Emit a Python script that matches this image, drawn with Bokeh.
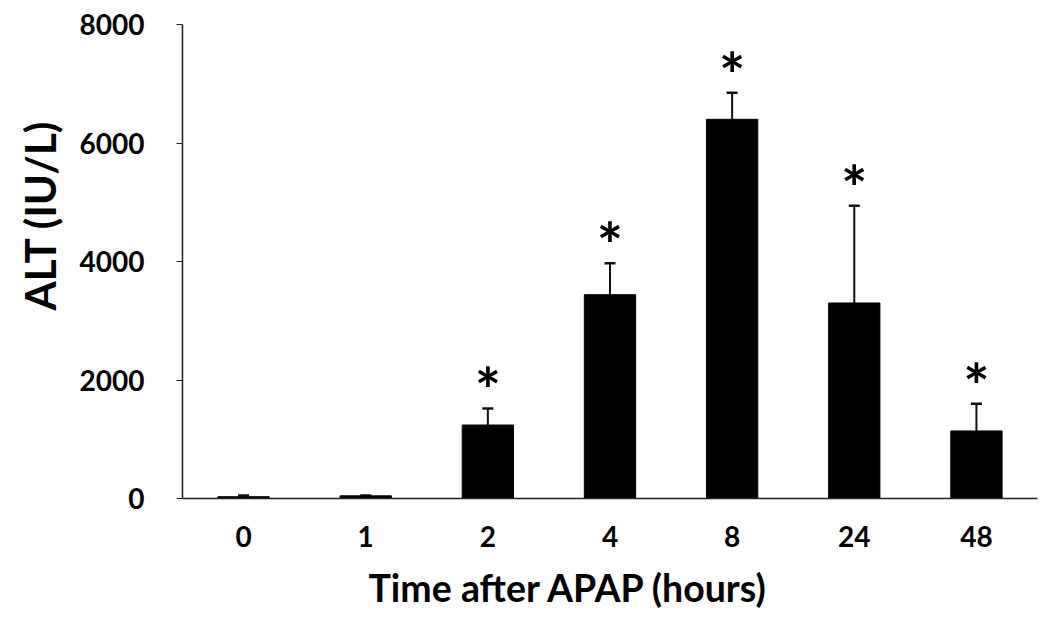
from bokeh.plotting import figure
from bokeh.models import ColumnDataSource, Range1d, FactorRange, Whisker, TeeHead, Title
from bokeh.core.properties import value
from bokeh.embed import file_html
from bokeh.resources import INLINE

categories = ["0", "1", "2", "4", "8", "24", "48"]
alt_mean = [30, 45, 1240, 3440, 6400, 3300, 1140]
alt_sem = [20, 5, 280, 530, 450, 1640, 460]
significant = [False, False, True, True, True, True, True]

FONT = "Lato"

upper = [m + s for m, s in zip(alt_mean, alt_sem)]
src = ColumnDataSource(dict(cat=categories, mean=alt_mean, upper=upper))
star_cats = [c for c, s in zip(categories, significant) if s]
star_y = [u for u, s in zip(upper, significant) if s]
star_src = ColumnDataSource(dict(cat=star_cats, y=star_y, t=["*"] * len(star_cats)))

p = figure(width=1042, height=627, x_range=FactorRange(*categories, range_padding=0),
           y_range=Range1d(0, 8000), output_backend="svg", toolbar_location=None,
           min_border_left=180, min_border_right=5, min_border_top=24, min_border_bottom=129)
p.outline_line_color = None
p.grid.grid_line_color = None

p.vbar(x="cat", top="mean", width=0.42, source=src, fill_color="black", line_color="black")

w = Whisker(base="cat", lower="mean", upper="upper", source=src, line_color="#111111", line_width=2,
            lower_head=None, upper_head=TeeHead(size=11, line_color="#111111", line_width=2.5))
p.add_layout(w)

p.text(x="cat", y="y", text="t", source=star_src, text_font=value(FONT), text_font_style="bold",
       text_font_size="62px", text_align="center", text_baseline="middle", y_offset=-19,
       text_color="black")

p.yaxis.ticker = [0, 2000, 4000, 6000, 8000]
p.yaxis.minor_tick_line_color = None
p.yaxis.major_tick_out = 6
p.yaxis.major_tick_in = 0
p.yaxis.axis_line_width = 1.5
p.yaxis.axis_line_color = "#222222"
p.yaxis.major_tick_line_color = "#222222"
p.yaxis.major_label_standoff = 32

p.xaxis.major_tick_line_color = None
p.xaxis.minor_tick_line_color = None
p.xaxis.axis_line_width = 1.5
p.xaxis.axis_line_color = "#222222"
p.xaxis.major_label_standoff = 21

for ax in (p.xaxis, p.yaxis):
    ax.major_label_text_font = FONT
    ax.major_label_text_font_style = "bold"
    ax.major_label_text_font_size = "28px"
    ax.major_label_text_color = "black"

xlab = Title(text="Time after APAP (hours)", align="left", offset=186, standoff=27,
             text_font=FONT, text_font_style="bold", text_font_size="37.5px", text_color="black")
ylab = Title(text="ALT (IU/L)", align="left", offset=188, standoff=24,
             text_font=FONT, text_font_style="bold", text_font_size="42px", text_color="black")
p.add_layout(xlab, "below")
p.add_layout(ylab, "left")

open("out.html", "w").write(file_html(p, INLINE))
